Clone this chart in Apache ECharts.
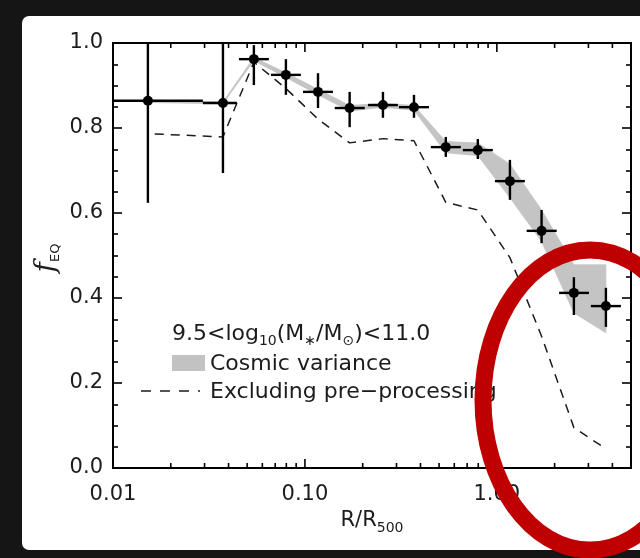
<!DOCTYPE html>
<html>
<head>
<meta charset="utf-8">
<script src="https://cdn.jsdelivr.net/npm/echarts@6/dist/echarts.min.js"></script>
<style>
  html, body { margin: 0; padding: 0; background: #151515; }
  #chart { width: 640px; height: 558px; }
</style>
</head>
<body>
<div id="chart"></div>
<script>
// Bin centres and bin edges in R/R500
const radius     = [0.0152, 0.0374, 0.0542, 0.0796, 0.117, 0.171, 0.255, 0.370, 0.542, 0.796, 1.17, 1.71, 2.52, 3.70];
const radiusLow  = [0.0100, 0.0294, 0.0453, 0.0665, 0.0977, 0.143, 0.213, 0.309, 0.453, 0.665, 0.977, 1.43, 2.11, 3.09];
const radiusHigh = [0.0294, 0.0442, 0.0649, 0.0953, 0.140, 0.205, 0.305, 0.443, 0.649, 0.953, 1.40, 2.05, 3.02, 4.43];

// f_EQ with its error range
const fEq     = [0.864, 0.859, 0.962, 0.925, 0.885, 0.847, 0.854, 0.849, 0.755, 0.748, 0.675, 0.558, 0.412, 0.381];
const fEqLow  = [0.624, 0.694, 0.901, 0.878, 0.847, 0.802, 0.824, 0.824, 0.732, 0.727, 0.631, 0.529, 0.360, 0.332];
const fEqHigh = [1.100, 1.020, 0.995, 0.962, 0.929, 0.885, 0.885, 0.878, 0.779, 0.774, 0.725, 0.607, 0.449, 0.424];

// Cosmic variance envelope
const cvUpper = [0.866, 0.861, 0.966, 0.930, 0.891, 0.853, 0.858, 0.853, 0.768, 0.765, 0.715, 0.607, 0.478, 0.478];
const cvLower = [0.860, 0.857, 0.958, 0.919, 0.878, 0.840, 0.849, 0.842, 0.742, 0.735, 0.636, 0.533, 0.365, 0.318];

// Excluding pre-processing
const exclRadius = [0.0165, 0.0374, 0.0542, 0.0796, 0.117, 0.171, 0.255, 0.370, 0.542, 0.796, 1.17, 1.71, 2.52, 3.70];
const exclF      = [0.786, 0.779, 0.955, 0.893, 0.821, 0.765, 0.775, 0.770, 0.625, 0.607, 0.495, 0.310, 0.095, 0.045];

// Axis ticks
const xMajorTicks = [0.01, 0.1, 1];
const xMinorTicks = [0.02, 0.03, 0.04, 0.05, 0.06, 0.07, 0.08, 0.09,
                     0.2, 0.3, 0.4, 0.5, 0.6, 0.7, 0.8, 0.9, 2, 3, 4];
const xMin = 0.01, xMax = 5;
const yMin = 0, yMax = 1;

const FONT = '"DejaVu Sans", sans-serif';
const INK = '#1c1c1c';

const chart = echarts.init(document.getElementById('chart'), null, { renderer: 'canvas' });

function tickSeries(values, len) {
  return {
    type: 'custom',
    silent: true,
    z: 5,
    data: values.map(v => [v, 0]),
    encode: { x: 0, y: 1 },
    renderItem(params, api) {
      const v = api.value(0);
      const bot = api.coord([v, yMin]);
      const top = api.coord([v, yMax]);
      const st = { stroke: '#000', lineWidth: 1.6 };
      return {
        type: 'group',
        children: [
          { type: 'line', shape: { x1: bot[0], y1: bot[1], x2: bot[0], y2: bot[1] - len }, style: st },
          { type: 'line', shape: { x1: top[0], y1: top[1], x2: top[0], y2: top[1] + len }, style: st }
        ]
      };
    }
  };
}

const yAxisBase = {
  type: 'value',
  min: yMin, max: yMax, interval: 0.2,
  axisLine: { show: false },
  splitLine: { show: false },
  axisTick: { show: true, inside: true, length: 9, lineStyle: { color: '#000', width: 1.6 } },
  minorTick: { show: true, splitNumber: 4, length: 5, lineStyle: { color: '#000', width: 1.6 } },
  minorSplitLine: { show: false }
};

const option = {
  backgroundColor: '#151515',
  animation: false,
  grid: {
    left: 113, right: 9, top: 43, bottom: 90,
    show: true, borderColor: '#000', borderWidth: 2, backgroundColor: 'transparent'
  },
  xAxis: {
    type: 'log', logBase: 10, min: xMin, max: xMax,
    axisLine: { show: false },
    axisTick: { show: false },
    splitLine: { show: false },
    minorTick: { show: false },
    axisLabel: {
      margin: 16,
      fontFamily: FONT, fontSize: 21, color: INK,
      formatter(v) {
        const e = Math.log10(v);
        return Math.abs(e - Math.round(e)) < 1e-6 ? v.toFixed(2) : '';
      }
    }
  },
  yAxis: [
    Object.assign({}, yAxisBase, {
      position: 'left',
      axisLabel: { margin: 10, fontFamily: FONT, fontSize: 21, color: INK, formatter: v => v.toFixed(1) }
    }),
    Object.assign({}, yAxisBase, { position: 'right', axisLabel: { show: false } })
  ],
  graphic: [
    { type: 'rect', z: -10, silent: true, shape: { x: 22, y: 16, width: 640, height: 534, r: 7 }, style: { fill: '#ffffff' } },
    // y-axis title
    {
      type: 'text', x: 47, y: 258, rotation: Math.PI / 2, silent: true, z: 10,
      style: {
        text: '{f|f}{s|EQ}', x: 0, y: 0,
        align: 'center', verticalAlign: 'middle', textAlign: 'center', textVerticalAlign: 'middle',
        fill: INK,
        rich: {
          f: { fontFamily: '"DejaVu Serif", serif', fontStyle: 'italic', fontSize: 28, lineHeight: 30, fill: INK, verticalAlign: 'middle' },
          s: { fontFamily: FONT, fontSize: 13, lineHeight: 13, fill: INK, verticalAlign: 'bottom' }
        }
      }
    },
    // x-axis title
    {
      type: 'text', x: 372, y: 521, silent: true, z: 10,
      style: {
        text: '{m|R/R}{s|500}', x: 0, y: 0,
        align: 'center', verticalAlign: 'middle', textAlign: 'center', textVerticalAlign: 'middle',
        fill: INK,
        rich: {
          m: { fontFamily: FONT, fontSize: 21, lineHeight: 28, fill: INK, verticalAlign: 'middle' },
          s: { fontFamily: FONT, fontSize: 14, lineHeight: 14, fill: INK, verticalAlign: 'bottom' }
        }
      }
    },
    // legend
    {
      type: 'text', x: 172, y: 334, silent: true, z: 10,
      style: {
        text: '{m|9.5<log}{s|10}{m|(M}{s|∗}{m|/M}{s|⊙}{m|)<11.0}', x: 0, y: 0,
        align: 'left', verticalAlign: 'middle', textAlign: 'left', textVerticalAlign: 'middle',
        fill: INK,
        rich: {
          m: { fontFamily: FONT, fontSize: 22, lineHeight: 28, fill: INK, verticalAlign: 'middle' },
          s: { fontFamily: FONT, fontSize: 14, lineHeight: 14, fill: INK, verticalAlign: 'bottom' }
        }
      }
    },
    { type: 'rect', silent: true, z: 10, shape: { x: 172, y: 355, width: 33, height: 16 }, style: { fill: '#c2c2c2' } },
    {
      type: 'text', x: 210, y: 364, silent: true, z: 10,
      style: { text: 'Cosmic variance', x: 0, y: 0, font: '22px ' + FONT, fill: INK,
               align: 'left', verticalAlign: 'middle', textAlign: 'left', textVerticalAlign: 'middle' }
    },
    {
      type: 'line', silent: true, z: 10,
      shape: { x1: 141, y1: 391, x2: 200, y2: 391 },
      style: { stroke: INK, lineWidth: 1.5, lineDash: [10, 9] }
    },
    {
      type: 'text', x: 210, y: 392, silent: true, z: 10,
      style: { text: 'Excluding pre\u2212processing', x: 0, y: 0, font: '22px ' + FONT, fill: INK,
               align: 'left', verticalAlign: 'middle', textAlign: 'left', textVerticalAlign: 'middle' }
    },
    // highlight ring
    {
      type: 'ellipse', silent: true, z: 100,
      shape: { cx: 590, cy: 400, rx: 107, ry: 150 },
      style: { fill: 'none', stroke: '#bf0000', lineWidth: 17 }
    }
  ],
  series: [
    // cosmic variance band
    {
      type: 'custom',
      silent: true,
      z: 1,
      data: [[radius[0], cvUpper[0]]],
      encode: { x: 0, y: 1 },
      renderItem(params, api) {
        const pts = [];
        for (let i = 0; i < radius.length; i++) pts.push(api.coord([radius[i], cvUpper[i]]));
        for (let i = radius.length - 1; i >= 0; i--) pts.push(api.coord([radius[i], cvLower[i]]));
        return { type: 'polygon', shape: { points: pts }, style: { fill: '#c4c4c4', stroke: '#c4c4c4', lineWidth: 0.8 } };
      }
    },
    // excluding pre-processing
    {
      type: 'line',
      z: 2,
      silent: true,
      symbol: 'none',
      data: exclRadius.map((r, i) => [r, exclF[i]]),
      lineStyle: { color: INK, width: 1.5, type: [9, 7] }
    },
    // measurements with error bars
    {
      type: 'custom',
      z: 3,
      silent: true,
      data: radius.map((r, i) => [r, fEq[i], radiusLow[i], radiusHigh[i], fEqLow[i], fEqHigh[i]]),
      encode: { x: 0, y: 1 },
      renderItem(params, api) {
        const cs = params.coordSys;
        const c = api.coord([api.value(0), api.value(1)]);
        const l = api.coord([api.value(2), api.value(1)]);
        const r = api.coord([api.value(3), api.value(1)]);
        const lo = api.coord([api.value(0), api.value(4)]);
        const hi = api.coord([api.value(0), api.value(5)]);
        const top = Math.max(hi[1], cs.y);
        const st = { stroke: '#000', lineWidth: 2.4 };
        return {
          type: 'group',
          children: [
            { type: 'line', shape: { x1: l[0], y1: c[1], x2: r[0], y2: c[1] }, style: st },
            { type: 'line', shape: { x1: c[0], y1: top, x2: c[0], y2: lo[1] }, style: st },
            { type: 'circle', shape: { cx: c[0], cy: c[1], r: 5 }, style: { fill: '#000' } }
          ]
        };
      }
    },
    tickSeries(xMajorTicks, 9),
    tickSeries(xMinorTicks, 5)
  ]
};

chart.setOption(option);
</script>
</body>
</html>
